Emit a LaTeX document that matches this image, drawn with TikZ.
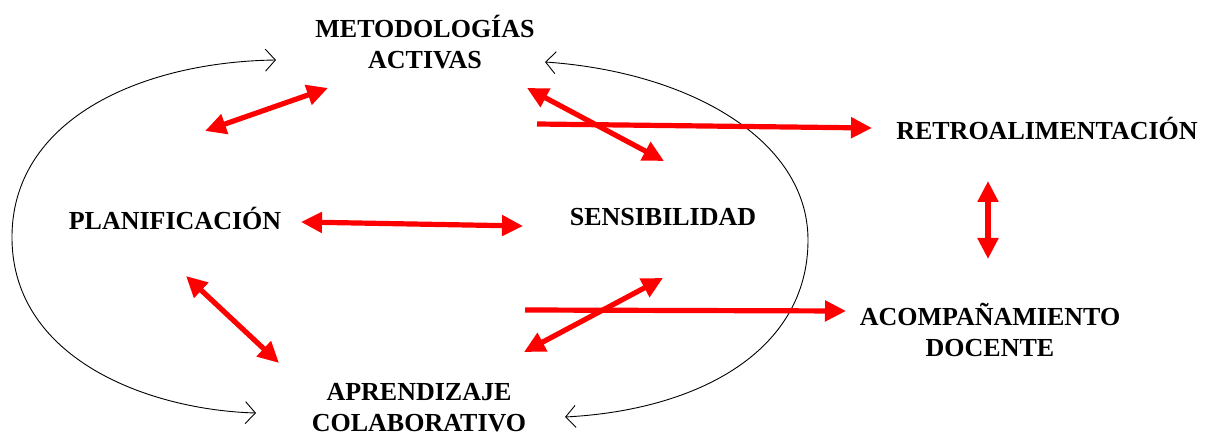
\documentclass[tikz,border=0pt]{standalone}
\usepackage{fontspec}
\setmainfont{Liberation Serif}
\usetikzlibrary{arrows.meta}
\definecolor{redarrow}{RGB}{255,0,0}
\tikzset{
  lbl/.style={font=\fontsize{26}{31}\selectfont\bfseries, align=center, inner sep=0pt, text=black},
  redlink/.style={draw=redarrow, line width=5.2pt, {Triangle[length=21pt,width=20pt]}-{Triangle[length=21pt,width=20pt]}},
  redone/.style={draw=redarrow, line width=5.2pt, -{Triangle[length=21pt,width=20pt]}},
  loop/.style={draw=black, line width=0.9pt, {Straight Barb[length=10pt,width=22pt]}-{Straight Barb[length=10pt,width=22pt]}}
}
\begin{document}
\begin{tikzpicture}[x=1pt,y=-1pt]
\useasboundingbox (0,0) rectangle (1205,435);
% nodes
\node[lbl] (met) at (425,42) {METODOLOGÍAS\\ACTIVAS};
\node[lbl, text height=17pt, text depth=0pt] (plan) at (175,221) {PLANIFICACIÓN};
\node[lbl, text height=17pt, text depth=0pt] (sens) at (663,217) {SENSIBILIDAD};
\node[lbl, text height=17pt, text depth=0pt] (retro) at (1047,131) {RETROALIMENTACIÓN};
\node[lbl] (acomp) at (990,330) {ACOMPAÑAMIENTO\\DOCENTE};
\node[lbl] (apr) at (419,408) {APRENDIZAJE\\COLABORATIVO};
% endpoint coordinates
\coordinate (lt) at (276,60);
\coordinate (lb) at (256,413);
\coordinate (lm) at (12,240);
\coordinate (rt) at (545,62);
\coordinate (rb) at (565,417);
\coordinate (rm) at (808,240);
\coordinate (mp1) at (205,131);
\coordinate (mp2) at (328,88);
\coordinate (ms1) at (527,88);
\coordinate (ms2) at (664,161);
\coordinate (mr1) at (537,124);
\coordinate (mr2) at (872,128);
\coordinate (ps1) at (301,222);
\coordinate (ps2) at (523,226);
\coordinate (pa1) at (186,276);
\coordinate (pa2) at (279,363);
\coordinate (sa1) at (524,352);
\coordinate (sa2) at (663,278);
\coordinate (aa1) at (525,310);
\coordinate (aa2) at (846,311);
\coordinate (ra1) at (988,181);
\coordinate (ra2) at (988,259);
% black loops
\draw[loop] (lt) .. controls (140,62) and (10,120) .. (lm) .. controls (14,360) and (150,410) .. (lb);
\draw[loop] (rt) .. controls (690,72) and (808,140) .. (rm) .. controls (808,350) and (700,410) .. (rb);
% red arrows
\draw[redlink] (mp1) -- (mp2);
\draw[redlink] (ms1) -- (ms2);
\draw[redone] (mr1) -- (mr2);
\draw[redlink] (ps1) -- (ps2);
\draw[redlink] (pa1) -- (pa2);
\draw[redlink] (sa1) -- (sa2);
\draw[redone] (aa1) -- (aa2);
\draw[redlink] (ra1) -- (ra2);
\end{tikzpicture}
\end{document}
